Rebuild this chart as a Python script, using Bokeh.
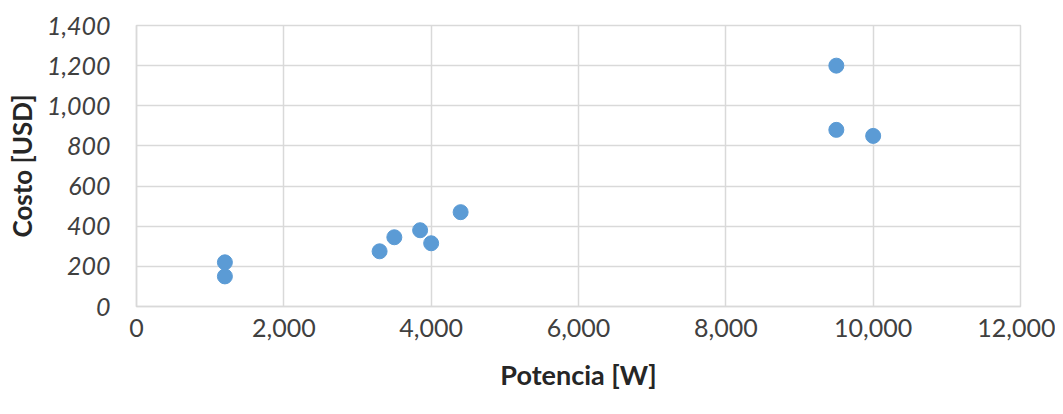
from bokeh.plotting import figure
from bokeh.models import FixedTicker, NumeralTickFormatter, Range1d, ColumnDataSource
from bokeh.embed import file_html
from bokeh.resources import INLINE

potencia = [1200, 1200, 3300, 3500, 3850, 4000, 4400, 9500, 9500, 10000]
costo = [220, 150, 275, 345, 380, 315, 470, 1200, 880, 850]
x_ticks = [0, 2000, 4000, 6000, 8000, 10000, 12000]
y_ticks = [0, 200, 400, 600, 800, 1000, 1200, 1400]

src = ColumnDataSource(dict(x=potencia, y=costo))

FONT = "Lato"
GRID = "#D9D9D9"

p = figure(width=1055, height=406, output_backend="svg", toolbar_location=None,
           x_range=Range1d(0, 12000), y_range=Range1d(0, 1400),
           min_border_left=136, min_border_top=25, min_border_bottom=100,
           min_border_right=35)

p.scatter("x", "y", source=src, size=15, fill_color="#5B9BD5", line_color="#5B9BD5")

p.outline_line_color = GRID
p.outline_line_width = 1.5

for ax, ticks in ((p.xaxis[0], x_ticks), (p.yaxis[0], y_ticks)):
    ax.ticker = FixedTicker(ticks=ticks)
    ax.formatter = NumeralTickFormatter(format="0,0")
    ax.axis_line_color = GRID
    ax.axis_line_width = 1.5
    ax.major_tick_line_color = None
    ax.minor_tick_line_color = None
    ax.major_tick_out = 0
    ax.major_tick_in = 0
    ax.major_label_text_font = FONT
    ax.major_label_text_font_size = "25px"
    ax.major_label_text_color = "#404040"
    ax.axis_label_text_font = FONT
    ax.axis_label_text_font_style = "bold"
    ax.axis_label_text_color = "#262626"

p.xaxis.axis_label = "Potencia [W]"
p.yaxis.axis_label = "Costo [USD]"
p.xaxis.axis_label_text_font_size = "27px"
p.yaxis.axis_label_text_font_size = "26px"
p.yaxis.major_label_text_font_style = "italic"
p.xaxis.major_label_standoff = 12
p.yaxis.major_label_standoff = 26
p.xaxis.axis_label_standoff = 18
p.yaxis.axis_label_standoff = 6

p.xgrid.ticker = FixedTicker(ticks=x_ticks)
p.ygrid.ticker = FixedTicker(ticks=y_ticks)
p.grid.grid_line_color = GRID
p.grid.grid_line_width = 1.5

open("out.html", "w").write(file_html(p, INLINE))
